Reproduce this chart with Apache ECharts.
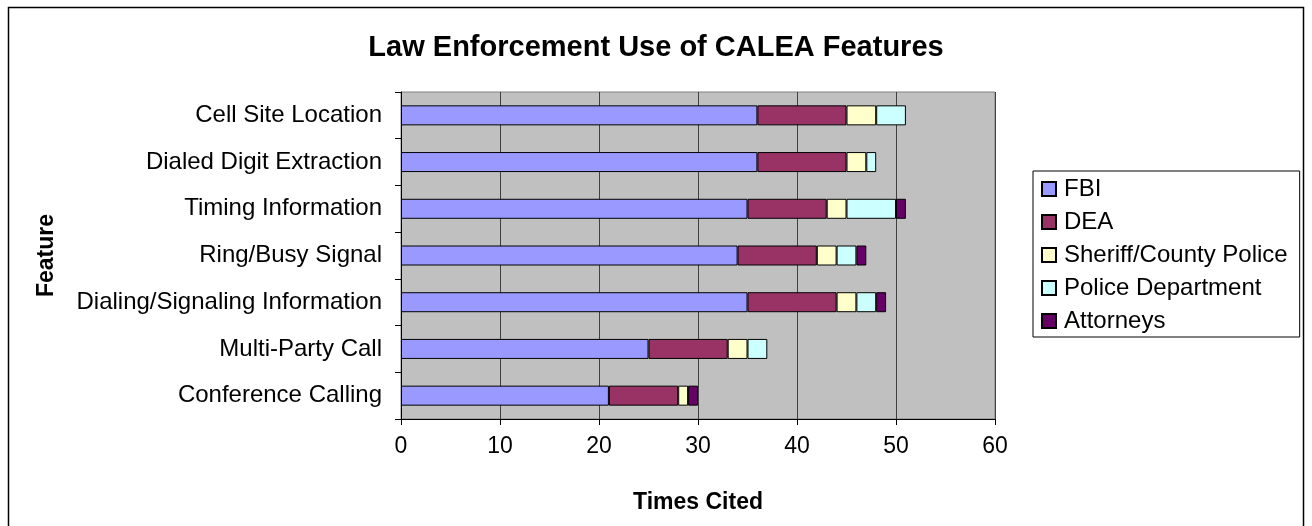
<!DOCTYPE html>
<html>
<head>
<meta charset="utf-8">
<script src="https://cdn.jsdelivr.net/npm/echarts@6/dist/echarts.min.js"></script>
<style>
  html, body { margin: 0; padding: 0; background: #fff; }
  #chart { width: 1312px; height: 526px; }
</style>
</head>
<body>
<div id="chart"></div>
<script>
  // categories listed top to bottom, as in the picture
  const features = ['Cell Site Location', 'Dialed Digit Extraction', 'Timing Information',
    'Ring/Busy Signal', 'Dialing/Signaling Information', 'Multi-Party Call', 'Conference Calling']
  const fbi = [36, 36, 35, 34, 35, 25, 21]
  const dea = [9, 9, 8, 8, 9, 8, 7]
  const sheriff = [3, 2, 2, 2, 2, 2, 1]
  const police = [3, 1, 5, 2, 2, 2, 0]
  const attorneys = [0, 0, 1, 1, 1, 0, 1]
  const xTicks = [0, 10, 20, 30, 40, 50, 60]

  const font = 'Liberation Sans, Arial, sans-serif'

  function bar(name, values, color) {
    return {
      name: name,
      type: 'bar',
      stack: 'total',
      barWidth: 20,
      itemStyle: { color: color, borderColor: '#000', borderWidth: 1 },
      // Excel draws nothing for an empty segment
      data: values.map(v => (v === 0 ? null : v))
    }
  }

  const chart = echarts.init(document.getElementById('chart'))
  chart.setOption({
    animation: false,
    textStyle: { fontFamily: font },
    graphic: [{
      type: 'rect',
      shape: { x: 8.5, y: 7.5, width: 1295, height: 540 },
      style: { fill: 'none', stroke: '#000', lineWidth: 1.5 },
      silent: true
    }],
    title: {
      text: 'Law Enforcement Use of CALEA Features',
      left: 'center',
      top: 28,
      textStyle: { fontFamily: font, fontSize: 29, fontWeight: 'bold', color: '#000' }
    },
    legend: {
      orient: 'vertical',
      left: 1033,
      top: 171,
      padding: [6, 12, 4, 8],
      itemGap: 9,
      itemWidth: 14,
      itemHeight: 14,
      icon: 'rect',
      borderColor: '#000',
      borderWidth: 1,
      textStyle: { fontFamily: font, fontSize: 24, color: '#000', lineHeight: 24, padding: [0, 0, 0, 3] }
    },
    grid: {
      left: 401,
      right: 1312 - 995,
      top: 92,
      bottom: 526 - 419,
      show: true,
      backgroundColor: '#C0C0C0',
      borderColor: '#808080',
      borderWidth: 1
    },
    xAxis: {
      type: 'value',
      min: xTicks[0],
      max: xTicks[xTicks.length - 1],
      interval: xTicks[1] - xTicks[0],
      name: 'Times Cited',
      nameLocation: 'middle',
      nameGap: 72,
      nameTextStyle: { fontFamily: font, fontSize: 23, fontWeight: 'bold', color: '#000' },
      axisLine: { show: true, lineStyle: { color: '#000', width: 1 } },
      axisTick: { show: true, length: 6, lineStyle: { color: '#000' } },
      axisLabel: { fontFamily: font, fontSize: 23, color: '#000', margin: 16 },
      splitLine: { show: true, lineStyle: { color: '#404040', width: 1 } }
    },
    yAxis: {
      type: 'category',
      inverse: true,
      data: features,
      name: 'Feature',
      nameLocation: 'middle',
      nameRotate: 90,
      nameGap: 343,
      nameTextStyle: { fontFamily: font, fontSize: 23, fontWeight: 'bold', color: '#000' },
      axisLine: { show: true, lineStyle: { color: '#000', width: 1 } },
      axisTick: { show: true, length: 6, lineStyle: { color: '#000' } },
      axisLabel: { fontFamily: font, fontSize: 24, color: '#000', margin: 19 },
      splitLine: { show: false }
    },
    series: [
      bar('FBI', fbi, '#9999FF'),
      bar('DEA', dea, '#993366'),
      bar('Sheriff/County Police', sheriff, '#FFFFCC'),
      bar('Police Department', police, '#CCFFFF'),
      bar('Attorneys', attorneys, '#660066')
    ]
  })
</script>
</body>
</html>
